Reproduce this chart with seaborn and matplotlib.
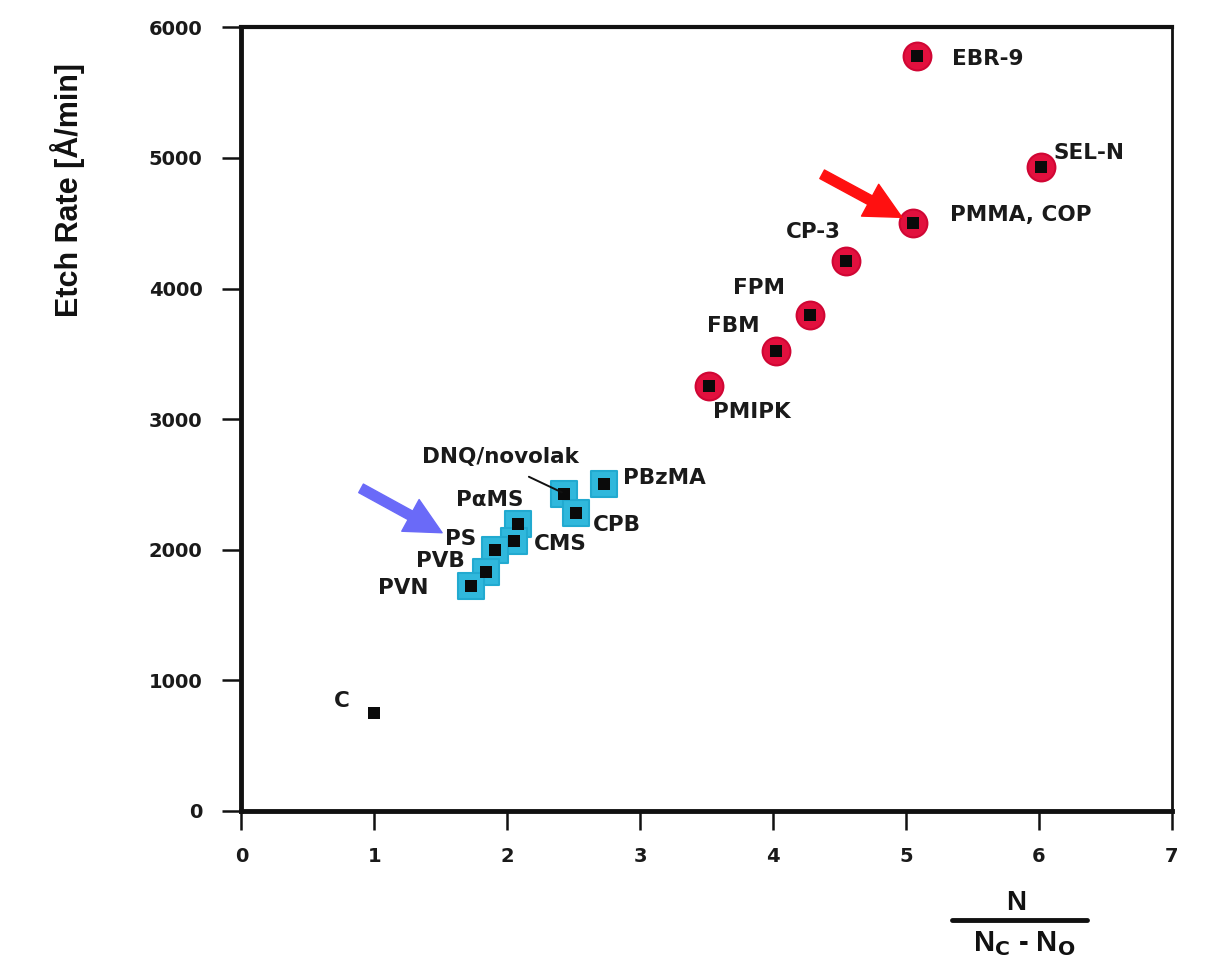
import matplotlib
matplotlib.use("Agg")
import matplotlib.pyplot as plt
import seaborn as sns
import pandas as pd
from matplotlib.lines import Line2D
from matplotlib import font_manager

# ---- data ----
names = ["EBR-9", "SEL-N", "PMMA, COP", "CP-3", "FPM", "FBM", "PMIPK",
         "DNQ/novolak", "PBzMA", "CPB", "PαMS", "CMS", "PS", "PVB", "PVN", "C"]
x_vals = [5.08, 6.02, 5.05, 4.55, 4.28, 4.02, 3.52,
          2.43, 2.73, 2.52, 2.08, 2.05, 1.91, 1.84, 1.73, 1.00]
y_vals = [5780, 4930, 4500, 4210, 3800, 3520, 3250,
          2430, 2500, 2285, 2200, 2070, 2000, 1830, 1720, 750]
groups = ["red"] * 7 + ["cyan"] * 8 + ["none"]
x_ticks = [0, 1, 2, 3, 4, 5, 6, 7]
y_ticks = [0, 1000, 2000, 3000, 4000, 5000, 6000]

# label offsets (pixels) of the text's left edge / vertical centre from the point
label_offsets = {
    "EBR-9": (35, -3), "SEL-N": (12, 14),
    "PMMA, COP": (37, 8), "CP-3": (-60, 29),
    "FPM": (-77, 27), "FBM": (-69, 25),
    "PMIPK": (4, -26), "DNQ/novolak": (-142, 37),
    "PBzMA": (19, 6), "CPB": (17, -12),
    "PαMS": (-62, 24), "CMS": (20, -3),
    "PS": (-50, 11), "PVB": (-70, 11),
    "PVN": (-93, -2), "C": (-40, 12),
}

df = pd.DataFrame({"name": names, "x": x_vals, "y": y_vals, "group": groups})

sns.set_theme(style="white")
plt.rcParams["font.family"] = ["DejaVu Sans"]

installed = {f.name for f in font_manager.fontManager.ttflist}
if "Liberation Sans Narrow" in installed:
    ylab_family, ylab_size = ["Liberation Sans Narrow", "DejaVu Sans"], 26
else:
    ylab_family, ylab_size = ["Liberation Sans", "DejaVu Sans"], 22

fig = plt.figure(figsize=(12.32, 9.77), dpi=100)
ax = fig.add_axes([0.196, 0.170, 0.755, 0.802])

red = df[df.group == "red"]
cyan = df[df.group == "cyan"]
sns.scatterplot(data=red, x="x", y="y", ax=ax, marker="o", s=400,
                color="#e2103e", edgecolor="#d00634", linewidth=1.5, zorder=3, legend=False)
sns.scatterplot(data=cyan, x="x", y="y", ax=ax, marker="s", s=340,
                color="#30b8dc", edgecolor="#22aad0", linewidth=1.5, zorder=3, legend=False)
sns.scatterplot(data=df, x="x", y="y", ax=ax, marker="s", s=64,
                color="#0a0a0a", edgecolor="#0a0a0a", linewidth=0, zorder=4, legend=False)

# labels
for n, xv, yv in zip(names, x_vals, y_vals):
    dx, dy = label_offsets[n]
    ax.annotate(n, (xv, yv), xytext=(dx, dy), textcoords="offset pixels",
                ha="left", va="center", fontsize=15.5, fontweight="bold",
                color="#1a1a1a", zorder=5)

# leader line for DNQ/novolak
ax.annotate("", xy=(2.43, 2430), xytext=(-38, 18), textcoords="offset pixels",
            arrowprops=dict(arrowstyle="-", color="#111111", lw=1.4), zorder=5)

# arrows
ax.annotate("", xy=(4.97, 4545), xytext=(4.37, 4875),
            arrowprops=dict(facecolor="#ff1010", edgecolor="#ff1010",
                            width=7, headwidth=26, headlength=26), zorder=6)
ax.annotate("", xy=(1.51, 2130), xytext=(0.90, 2470),
            arrowprops=dict(facecolor="#6a6af8", edgecolor="#6a6af8",
                            width=7, headwidth=26, headlength=26), zorder=6)

ax.set_xlim(0, 7)
ax.set_ylim(0, 6000)
ax.set_xticks(x_ticks)
ax.set_yticks(y_ticks)
ax.tick_params(axis="both", direction="out", length=14, width=1.8, colors="#111111",
               labelsize=14, bottom=True, left=True)
ax.tick_params(axis="x", pad=12)
ax.tick_params(axis="y", pad=14)
for lab in ax.get_xticklabels() + ax.get_yticklabels():
    lab.set_fontweight("bold")
    lab.set_color("#1a1a1a")
for s in ax.spines.values():
    s.set_color("#111111")
ax.spines["left"].set_linewidth(3.5)
ax.spines["bottom"].set_linewidth(3.5)
ax.spines["top"].set_linewidth(3.0)
ax.spines["right"].set_linewidth(2.0)
ax.set_xlabel("")
ax.set_ylabel("Etch Rate [Å/min]", fontsize=ylab_size, fontweight="bold",
              family=ylab_family, color="#111111")
ax.yaxis.set_label_coords(-0.168, 0.793)

# x label as stacked fraction
W, H = 1232, 977
fig.text(1016 / W, 1 - 903 / H, "N", ha="center", va="center",
         fontsize=20, fontweight="bold", family=["Liberation Sans", "DejaVu Sans"],
         color="#111111")
fig.add_artist(Line2D([952 / W, 1087 / W], [1 - 920 / H, 1 - 920 / H],
                      color="#111111", lw=3.5))
fig.text(1024 / W, 1 - 944 / H, r"N$_\mathbf{C}$ - N$_\mathbf{O}$", ha="center",
         va="center", fontsize=21, fontweight="bold",
         family=["Liberation Sans", "DejaVu Sans"], color="#111111")

fig.savefig("out.png", dpi=100, facecolor="white")
